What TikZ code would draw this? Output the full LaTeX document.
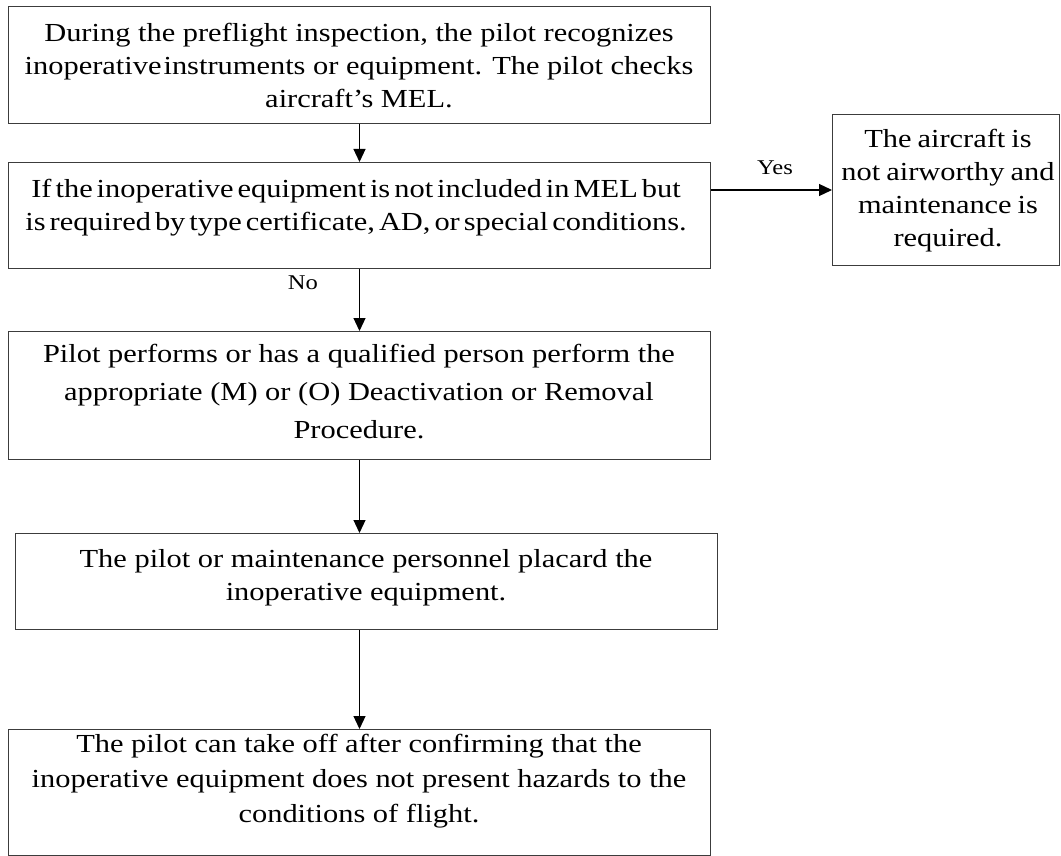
\documentclass[tikz,border=0pt]{standalone}
\usepackage{fontspec}
\setmainfont[FakeStretch=1.17]{Liberation Serif}
\usepackage{tikz}
\usetikzlibrary{arrows.meta}
\definecolor{boxgray}{RGB}{60,60,60}
\tikzset{tightwords/.style={font={\fontsize{26}{33}\selectfont\spaceskip=#1\relax}}}
\newcommand{\flowbox}[4] {\node at (#1) (#2) [rectangle, draw=boxgray, line width=1pt, anchor=north west, inner sep=0pt, minimum width=#3, minimum height=#4] {};}
\newcommand{\flowtext}[4][] {\node at (#2) (#3) [anchor=north, align=center, inner sep=0pt, #1] {#4};}
\newcommand{\flowdown}[2] {\draw [flowarrow] (#1.south) -- (#1.south |- #2.north);}
\newcommand{\flowlabel}[3] {\node at (#1) (#2) [font=\fontsize{21}{23}\selectfont] {#3};}

\begin{document}
\begin{tikzpicture}[x=1pt, y=-1pt, font=\fontsize{26}{33}\selectfont,
  flowarrow/.style={line width=1.2pt, -{Triangle[length=13pt, width=12pt]}}]
\useasboundingbox (0,0) rectangle (1061,856);
\flowbox{8,6}{inspect}{702pt}{117pt}
\flowbox{8,162}{decide}{702pt}{106pt}
\flowbox{832,114}{unfit}{227pt}{151pt}
\flowbox{8,331}{deactivate}{702pt}{128pt}
\flowbox{15,533}{placard}{702pt}{96pt}
\flowbox{8,729}{takeoff}{702pt}{126pt}
\flowtext{359,23}{inspecttxt}{During the preflight inspection, the pilot recognizes\\inoperative\hspace{2pt}instruments or equipment. The pilot checks\\aircraft’s MEL.}
% tight word spacing, as printed
\flowtext[tightwords=4pt]{356,179}{decidetxt}{If the inoperative equipment is not included in MEL but\\is required by type certificate, AD, or special conditions.}
\flowtext[tightwords=6pt]{948,129}{unfittxt}{The aircraft is\\not airworthy and\\maintenance is\\required.}
\flowtext{359,344}{deactivatetxt}{Pilot performs or has a qualified person perform the\\[5pt]appropriate (M) or (O) Deactivation or Removal\\[5pt]Procedure.}
\flowtext{366,549}{placardtxt}{The pilot or maintenance personnel placard the\\inoperative equipment.}
\flowtext{359,734}{takeofftxt}{The pilot can take off after confirming that the\\[2pt]inoperative equipment does not present hazards to the\\[2pt]conditions of flight.}
\flowlabel{775,168}{yes}{Yes}
\flowlabel{303,283}{no}{No}
\flowdown{inspect}{decide}
\flowdown{decide}{deactivate}
\flowdown{deactivate}{placard}
\coordinate (placardout) at (placard.south -| deactivate.south);
\draw [flowarrow] (placardout) -- (placardout |- takeoff.north);
\draw [flowarrow] (decide.east |- unfit.west) -- (unfit.west);
\end{tikzpicture}
\end{document}
